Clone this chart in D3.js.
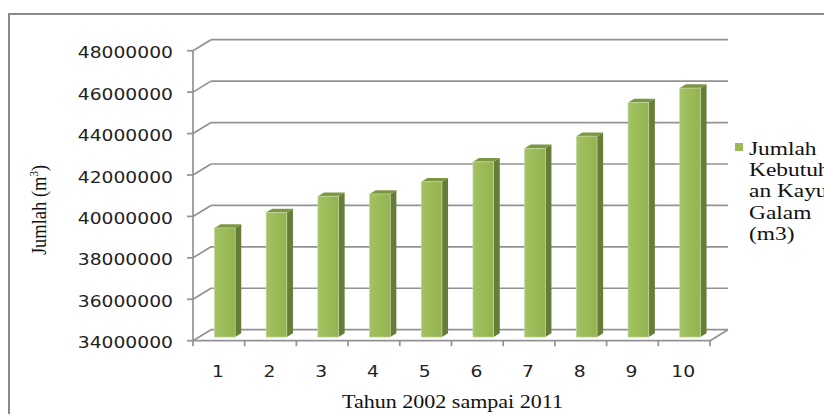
<!DOCTYPE html>
<html>
<head>
<meta charset="utf-8">
<script src="https://cdn.jsdelivr.net/npm/d3@7"></script>
<style>
  html, body { margin: 0; padding: 0; background: #ffffff; }
  svg { display: block; }
</style>
</head>
<body>
<script>
// Annual demand for galam wood, 2002-2011 (year index 1..10)
const categories = ["1", "2", "3", "4", "5", "6", "7", "8", "9", "10"];
const demandValues = [39270000, 40020000, 40800000, 40910000, 41500000,
                      42460000, 43110000, 43700000, 45320000, 46020000];
const valueTicks = [34000000, 36000000, 38000000, 40000000, 42000000,
                    44000000, 46000000, 48000000];
const seriesName = ["Jumlah", "Kebutuh", "an Kayu", "Galam", "(m3)"];
const xTitle = "Tahun 2002 sampai 2011";
const yTitle = "Jumlah (m";

const W = 824, H = 414;
const svg = d3.select("body").append("svg").attr("width", W).attr("height", H);

// oblique projection of the 3-D plot box: depth vector of the whole floor
const depth = { dx: 18, dy: -11 };
const front = 0.33, back = 0.67;     // bar depth slice as fraction of floor depth
const stretch = 1.17;                // horizontal widening of the lettering

const x = d3.scaleBand().domain(categories).range([193, 710])
  .paddingInner(0.6).paddingOuter(0.3);
const y = d3.scaleLinear().domain([34000000, 48000000]).range([340.7, 50.7]);

const grid = "#929292";

// chart area frame
svg.append("rect").attr("x", 9).attr("y", 14).attr("width", W).attr("height", H)
  .attr("fill", "none").attr("stroke", "#898989").attr("stroke-width", 2);

// back wall gridlines + left wall diagonals + value ticks
const gl = svg.append("g").attr("stroke", grid).attr("stroke-width", 1.7).attr("fill", "none");
valueTicks.forEach(t => {
  const yy = y(t);
  gl.append("line").attr("x1", x.range()[0] + depth.dx).attr("x2", x.range()[1] + depth.dx)
    .attr("y1", yy + depth.dy).attr("y2", yy + depth.dy);
  gl.append("line").attr("x1", x.range()[0]).attr("y1", yy)
    .attr("x2", x.range()[0] + depth.dx).attr("y2", yy + depth.dy);
  gl.append("line").attr("x1", x.range()[0] - 6).attr("x2", x.range()[0])
    .attr("y1", yy).attr("y2", yy);
});
// value axis line
gl.append("line").attr("x1", 193).attr("x2", 193).attr("y1", y(48000000)).attr("y2", y(34000000));
// floor front and right edge
const base = y(34000000);
gl.append("line").attr("x1", 193).attr("x2", 710).attr("y1", base).attr("y2", base);
gl.append("line").attr("x1", 710).attr("y1", base).attr("x2", 710 + depth.dx).attr("y2", base + depth.dy);
// category ticks between bands
const step = x.step();
d3.range(categories.length + 1).forEach(i => {
  const xx = x.range()[0] + i * step;
  gl.append("line").attr("x1", xx).attr("x2", xx).attr("y1", base).attr("y2", base + 5.5);
});

// bars
const grad = svg.append("defs").append("linearGradient").attr("id", "barFront")
  .attr("x1", 0).attr("x2", 1).attr("y1", 0).attr("y2", 0);
grad.append("stop").attr("offset", 0).attr("stop-color", "#a3c263");
grad.append("stop").attr("offset", 0.5).attr("stop-color", "#9bbb59");
grad.append("stop").attr("offset", 1).attr("stop-color", "#93b351");

const bars = svg.append("g");
categories.forEach((c, i) => {
  const v = demandValues[i];
  const ox = front * depth.dx, oy = front * depth.dy;
  const bx = (back - front) * depth.dx, by = (back - front) * depth.dy;
  const x0 = x(c) + ox, x1 = x0 + x.bandwidth();
  const yTop = y(v) + oy, yBot = y(34000000) + oy;
  // side face
  bars.append("path")
    .attr("d", `M${x1},${yTop}L${x1 + bx},${yTop + by}L${x1 + bx},${yBot + by}L${x1},${yBot}Z`)
    .attr("fill", "#657d36");
  // top face
  bars.append("path")
    .attr("d", `M${x0},${yTop}L${x0 + bx},${yTop + by}L${x1 + bx},${yTop + by}L${x1},${yTop}Z`)
    .attr("fill", "#7b9744");
  // front face
  bars.append("rect").attr("x", x0).attr("y", yTop)
    .attr("width", x1 - x0).attr("height", yBot - yTop)
    .attr("fill", "url(#barFront)")
    .attr("stroke", "#c4d9a0").attr("stroke-width", 0.7);
});

// value tick labels
const sans = "'DejaVu Sans', Verdana, sans-serif";
const serif = "'Liberation Serif', 'Times New Roman', serif";
valueTicks.forEach(t => {
  svg.append("text")
    .attr("transform", `translate(173,${y(t) + 7.6}) scale(${stretch},1)`)
    .attr("text-anchor", "end").attr("font-family", sans).attr("font-size", 16)
    .attr("fill", "#222").text(t);
});
// category labels
categories.forEach(c => {
  svg.append("text")
    .attr("transform", `translate(${x(c) + x.bandwidth() / 2 - 1},377) scale(${stretch},1)`)
    .attr("text-anchor", "middle").attr("font-family", sans).attr("font-size", 16)
    .attr("fill", "#222").text(c);
});

// axis titles
svg.append("text")
  .attr("transform", `translate(452.5,408) scale(${stretch - 0.01},1)`)
  .attr("text-anchor", "middle").attr("font-family", serif).attr("font-size", 19)
  .attr("fill", "#111").text(xTitle);

const yt = svg.append("text")
  .attr("transform", `translate(46,210) rotate(-90) scale(1,${stretch})`)
  .attr("text-anchor", "middle").attr("font-family", serif).attr("font-size", 18.5)
  .attr("fill", "#111");
yt.append("tspan").text(yTitle);
yt.append("tspan").attr("dy", -7).attr("font-size", 11).text("3");
yt.append("tspan").attr("dy", 7).text(")");

// legend
svg.append("rect").attr("x", 735).attr("y", 143).attr("width", 8).attr("height", 8)
  .attr("fill", "#9bbb59");
seriesName.forEach((line, i) => {
  svg.append("text")
    .attr("transform", `translate(749,${155 + i * 21.2}) scale(1.2,1)`)
    .attr("font-family", serif).attr("font-size", 19.5).attr("fill", "#111").text(line);
});
</script>
</body>
</html>
